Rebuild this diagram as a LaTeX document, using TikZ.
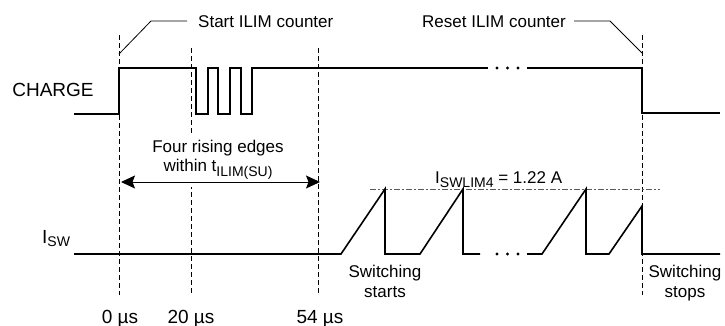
\documentclass[tikz,border=0pt]{standalone}
\usepackage{fontspec}
\setmainfont{Liberation Sans}
\usetikzlibrary{arrows.meta}
\newcommand\mysub[2][4]{\raisebox{-#1pt}{\fontsize{14}{14}\selectfont #2}}
\begin{document}
\begin{tikzpicture}[x=1pt,y=-1pt,
  sig/.style={line width=1.6pt},
  guide/.style={line width=0.7pt, dash pattern=on 5pt off 3pt},
  leader/.style={line width=0.8pt},
  lim/.style={line width=0.8pt, gray!70!black, dash pattern=on 6pt off 2pt on 2pt off 2pt},
  lbl/.style={inner sep=0pt, font=\fontsize{17}{20}\selectfont},
  big/.style={inner sep=0pt, font=\fontsize{19}{22}\selectfont},
  dotc/.style={circle, fill=black, inner sep=0pt, minimum size=3.4pt},
  dimarrow/.style={line width=0.9pt, arrows={Stealth[length=14pt,width=13pt,inset=2.5pt]-Stealth[length=14pt,width=13pt,inset=2.5pt]}}]
\useasboundingbox (0,0) rectangle (725,326);

% guide lines
\coordinate (g0t) at (119,35);  \coordinate (g0b) at (119,295);
\coordinate (g1t) at (191,48);  \coordinate (g1b) at (191,295);
\coordinate (g2t) at (318,48);  \coordinate (g2b) at (318,295);
\coordinate (g3t) at (642,35);  \coordinate (g3b) at (642,295);
\draw[guide] (g0t) -- (g0b);
\draw[guide] (g1t) -- (g1b);
\draw[guide] (g2t) -- (g2b);
\draw[guide] (g3t) -- (g3b);

% white patch behind the label
\fill[white] (150,133) rectangle (290,187);

% CHARGE signal
\draw[sig] (74,114) -- (119,114) -- (119,68) -- (196,68) -- (196,114) -- (208,114)
  -- (208,68) -- (218,68) -- (218,114) -- (230,114) -- (230,68) -- (241,68)
  -- (241,114) -- (252,114) -- (252,68) -- (488,68);
\draw[sig] (527,68) -- (642,68) -- (642,113) -- (720,113);
\node[dotc] (cd1) at (497,68) {};
\node[dotc] (cd2) at (507.5,68) {};
\node[dotc] (cd3) at (518,68) {};

% ISW signal
\draw[lim] (370,189) -- (660,189);
\draw[sig] (74,254) -- (341,254) -- (385,189) -- (385,254) -- (420,254) -- (463,189)
  -- (463,254) -- (480,254);
\draw[sig] (527,254) -- (542,254) -- (586,189) -- (586,254) -- (609,254) -- (642,206)
  -- (642,254) -- (720,254);
\node[dotc] (id1) at (497,254) {};
\node[dotc] (id2) at (507.5,254) {};
\node[dotc] (id3) at (518,254) {};

% leaders
\coordinate (sl1) at (119,54); \coordinate (sl2) at (151,21); \coordinate (sl3) at (187,21);
\draw[leader] (sl1) -- (sl2) -- (sl3);
\coordinate (rl1) at (574,21); \coordinate (rl2) at (610,21); \coordinate (rl3) at (642,53);
\draw[leader] (rl1) -- (rl2) -- (rl3);
\node[lbl, anchor=base west] (start) at (198,28) {Start ILIM counter};
\node[lbl, anchor=base west] (reset) at (422,28) {Reset ILIM counter};

% arrow
\coordinate (aL) at (121,182); \coordinate (aR) at (320,182);
\draw[dimarrow] (aL) -- (aR);
\node[lbl, anchor=base] (four1) at (218,153) {Four rising edges};
\node[lbl, anchor=base] (four2) at (218,171.5) {within t\mysub[5]{ILIM(SU)}};

% signal labels
\node[big, anchor=base] (charge) at (53,97) {CHARGE};
\node[big, anchor=base west] (isw) at (42,243) {I\mysub[3]{SW}};
\node[lbl, anchor=base west] (ilim) at (435,183) {I\mysub{SWLIM4} = 1.22 A};

% switching labels
\node[lbl, anchor=base] (ss1) at (385,277) {Switching};
\node[lbl, anchor=base] (ss2) at (385,297) {starts};
\node[lbl, anchor=base] (sp1) at (685,277) {Switching};
\node[lbl, anchor=base] (sp2) at (685,297) {stops};

% time labels
\node[big, anchor=base] (t0) at (120,323) {0 µs};
\node[big, anchor=base] (t20) at (191,323) {20 µs};
\node[big, anchor=base] (t54) at (320,323) {54 µs};
\end{tikzpicture}
\end{document}
